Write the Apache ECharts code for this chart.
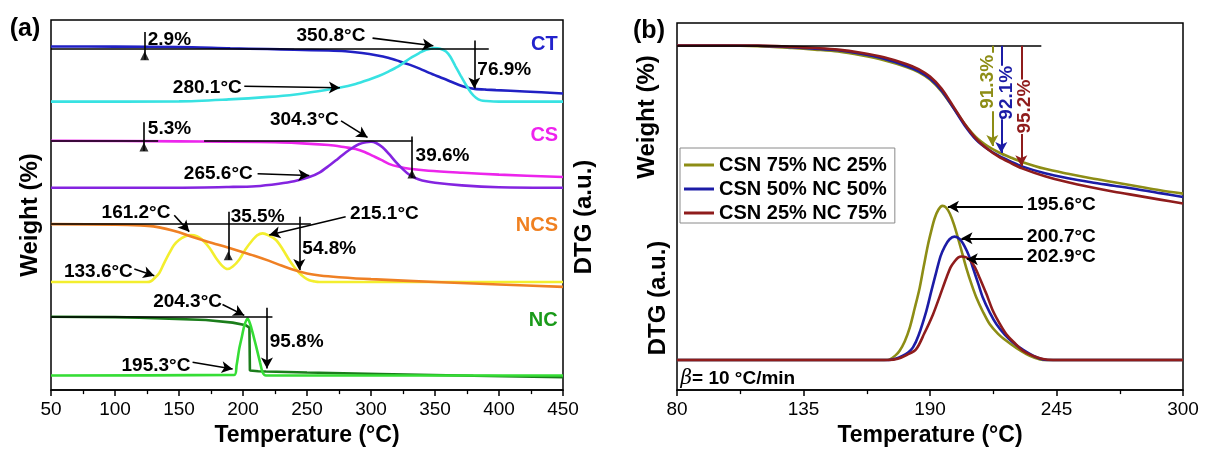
<!DOCTYPE html>
<html><head><meta charset="utf-8">
<script src="https://cdn.jsdelivr.net/npm/echarts@6/dist/echarts.min.js"></script>
<style>html,body{margin:0;padding:0;background:#fff}#c{width:1211px;height:452px}</style>
</head><body><div id="c"></div>
<script>
// ---------------- DATA ----------------
// Panel (a): temperature (°C) vs. stacked signal (a.u., curves offset vertically)
const xTicksA = [50, 450, 50];           // min, max, step
const ctWeight = [[50,346.3],[100,346.2],[150,345.8],[190,344.5],[219,343.7],[240,343],[267,342.3],[280,341.5],[293,339.7],[304,337.5],[314,334.7],[322,331.5],[330,328],[338,324],[345.5,319.7],[352,316.3],[358.6,313],[365,309.5],[371.6,306.3],[377,304.4],[381,303.6],[390,302.8],[397.6,302.3],[420,301],[450,299]];
const ctDtg = [[50,290.7],[150,291],[189,293],[220,295.5],[241,298],[260,301.5],[275,304.7],[288,308.5],[298.7,313],[306,316.5],[314,321.3],[321,326],[327,331.3],[332,335.5],[337.7,339.7],[343,343],[349.5,344.7],[354,344],[358.6,341.3],[362,336],[366,326.3],[370,317],[374,308],[378,300],[382,294.7],[386,292],[390,291.3],[400,290.7],[450,290.7]];
const csWeight = [[50,251.3],[150,250.7],[230,249.7],[267,247],[280,244.7],[288,243],[295,240],[301,236.3],[308,232],[314,228],[322,225],[330,223],[345,221],[371.6,219],[400,217.2],[450,214.7]];
const csDtg = [[50,204],[150,204],[189,204.7],[210,205.5],[228,208],[240,210.5],[251.8,214.7],[260,219.5],[267.4,226.3],[274,233],[280.5,239.7],[286,244.5],[290.9,248],[296,249.8],[300,250.3],[304,249],[309,244.7],[314,238],[319.5,229.7],[325,222.5],[330,217],[335,213.5],[340,211.3],[350,209],[371,206.3],[400,204.5],[450,204]];
const ncsWeight = [[50,167.3],[100,166.8],[120,166],[130,165],[140,162.5],[150,159],[160,154.5],[170,150.5],[180,146.8],[190,143],[200,139],[210,135],[220,130.5],[230,125.5],[240,121],[250,117.5],[260,115.5],[275,113.8],[300,111.8],[350,109],[400,106.5],[450,104]];
const ncsDtg = [[50,109],[125,109],[128,109.7],[131,113],[134.6,118],[138,127],[142.4,138],[146,146],[150,151.3],[155,155],[159.4,156.3],[164,155],[168.4,151.3],[174,143],[179,133],[184,125],[188,122],[192,124.5],[197,131.3],[202,142],[207.5,151.3],[211,156],[215.3,158],[220,156],[225.8,151.3],[231,142],[236,131.3],[240,124],[244,118],[248,113.5],[251.8,110.7],[256,109.5],[259.6,109],[450,109]];
const ncWeight = [[50,74],[100,73.5],[119,73],[171,70.7],[191.9,68],[202.3,65.3],[205,63],[205.4,19.7],[212,19],[218,18.7],[250,17.8],[306.5,16.3],[380,14.5],[450,13]];
const ncDtg = [[50,14.7],[193.2,15.3],[195,25],[197,41.3],[199,53],[201,64.7],[203.6,72],[205.5,67],[207.5,58],[209.5,48],[211.4,38],[213.3,28],[215.3,18],[217.9,14.7],[450,14.7]];

// Panel (b)
const xTicksB = [80, 300, 55];
const seriesNamesB = ['CSN 75% NC 25%', 'CSN 50% NC 50%', 'CSN 25% NC 75%'];
const tempB = [80,100,115,130,140,150,160,170,180,185,190,195,200,205,210,215,220,225,230,240,250,260,270,280,290,300];
const tg75 = [347.3,347.3,346.7,344.8,343.2,341.3,337.5,332.5,325.5,320.5,313,301,285,268.5,255,246,239.5,234.5,230,223,218,213.5,209.5,205.5,201.5,198];
const tg50 = [347.3,347.3,347,345.5,344.2,342.5,339,334,326.5,321.5,314,302,285,267,252.5,243,236,230.5,225.5,218.5,213.5,209.5,206,202.5,198.5,194.7];
const tg25 = [347.3,347.3,347.2,346,344.8,343.2,340,335.5,328.5,323.5,316,304,286.5,268.5,253.5,243,235,229,223.5,215.5,209.5,204.5,200,196,192,188];
const dtg75 = [[80,30.3],[170,30.3],[172.5,31],[175,35],[176.8,39.7],[179,49],[181.2,63],[183.3,82],[185.5,103],[187.3,125],[189.1,146.3],[190.6,161],[192,173],[193.7,182],[195.4,185.7],[197,184],[198.6,178],[200.4,167],[202.2,153],[204,138],[205.8,123],[208,107],[210.2,93],[213,79],[216,66.3],[219.5,57],[223.2,49.7],[227.5,42.5],[231.9,36.3],[235.5,32.5],[239.1,30.3],[300,30.3]];
const dtg50 = [[80,30.3],[172,30.3],[175,31.5],[178,34.5],[180.5,38],[182.6,43],[185,55],[188.4,79.7],[190.6,100],[192.8,119.7],[194.6,135],[196.4,144.7],[198.5,152],[200.7,154.7],[203,152],[205.1,144.7],[207,135],[208.7,123],[211,107],[213,93],[216,78],[218.9,66.3],[222.5,56],[226.1,48],[230.5,40.5],[234.8,34.7],[238,31.5],[241,30.3],[300,30.3]];
const dtg25 = [[80,30.3],[172,30.3],[176,31.5],[180,35.5],[184,41.3],[187.5,57],[191.3,76.3],[194.3,95],[197.1,113],[199,124],[200.7,129.7],[202.2,133.5],[203.7,134.7],[205.5,134],[207.3,131.3],[209.5,124],[211.6,113],[214.5,97],[217.4,79.7],[220.3,67],[223.2,56.3],[226.8,47.5],[230.4,39.7],[234.8,34.5],[239.1,31.3],[243.5,30.3],[300,30.3]];

// Annotations (data units)
const refLinesA = [[50,392,343.7],[50,133.7,251.3],[169.6,332.5,251.3],[50,253,168],[50,223,74]];
const tickLinesA = [[123.2,361,333],[122.6,270,241],[332,255.7,213.7],[188.5,179.7,131.3]];
const trianglesA = [[123.2,337],[122.6,245],[332,217.7],[188.5,135.3]];
const downArrowsA = [[380.7,352.3,304],[244,174.7,121],[218.7,83,21.7]];
const pointersA = [[301.2,354.7,348.7,347,0.03],[201,306.3,275.7,304.7,0.06],[276.6,271.3,297.3,254.7,0.12],[211.4,218,251.8,216.3,0.15],[146.3,176.3,158,159.7,0.12],[280.2,174.7,220.5,156.3,0.2],[115.1,122,130.7,115.3,0.15],[184,86.3,201,75.3,0.12],[160.6,28,191.9,21.3,0.25]];
const labelsA = [[142.5,353,'2.9%'],[268.7,357,'350.8°C'],[404.1,323,'76.9%'],[172.1,304.7,'280.1°C'],
  [142.6,263,'5.3%'],[247.9,272.3,'304.3°C'],[355.9,236.3,'39.6%'],[180.7,218,'265.6°C'],
  [116.4,178.7,'161.2°C'],[211.4,174.7,'35.5%'],[310.4,178,'215.1°C'],[267.4,142,'54.8%'],[87,119,'133.6°C'],
  [156.7,88.7,'204.3°C'],[241.9,48.7,'95.8%'],[132,24.7,'195.3°C']];
const sampleLabelsA = [[435.4,348,'CT'],[435.4,256.3,'CS'],[429.6,166.3,'NCS'],[434.6,69.7,'NC']];
const refLineB = [80,238.4,347];
const dropSegsB = [[217.1,347,340],[221,347,327],[229.7,347,313]];
const dropArrowsB = [[217.1,281,246],[221,273,239],[229.7,258,225.5]];
const dropLabelsB = [[215.2,310.7,'91.3%'],[223.2,299.7,'92.1%'],[231.2,285.7,'95.2%']];
const peakArrowsB = [[230.4,184.7,197.8],[230.4,153,203.7],[230.4,132,206]];
const peakLabelsB = [[247.1,187,'195.6°C'],[247.1,154.7,'200.7°C'],[247.1,134,'202.9°C']];
const rateLabelB = [81.3,11.3];

// ---------------- STYLE ----------------
const FONT = '"Liberation Sans", Arial, Helvetica, sans-serif';
const INK = '#000';
const colA = {ctW:'#2121c4', ctD:'#38e2e2', csW:'#ec25ec', csD:'#8424e0', ncsW:'#ef8024', ncsD:'#f3ee2e', ncW:'#1b7d1b', ncD:'#35dd35'};
const labColA = ['#2222cc','#ee22ee','#f08020','#1a9a1a'];
const colB = ['#8d8d15','#1c1ca6','#8f1c1c'];

const chart = echarts.init(document.getElementById('c'));

function curve(name, data, color, gi, smooth) {
  return {type:'line', name, data, xAxisIndex:gi, yAxisIndex:gi, showSymbol:false, symbol:'none',
    smooth: smooth === undefined ? 0.3 : smooth, silent:true, animation:false,
    lineStyle:{color, width:2.6}, itemStyle:{color}, z:3};
}
function seg(x1,y1,x2,y2,opt){
  opt = opt || {};
  return [{coord:[x1,y1], symbol:'none', lineStyle:{color:opt.color||INK, width:opt.width||1.6, curveness:opt.curv||0, type:'solid'}},
          {coord:[x2,y2], symbol: opt.arrow ? 'arrow' : 'none', symbolSize:[9,11]}];
}
function annoSeries(gi, lines) {
  return {type:'line', data:[], xAxisIndex:gi, yAxisIndex:gi, silent:true, animation:false, symbol:'none',
    markLine:{silent:true, animation:false, symbol:['none','none'], label:{show:false}, emphasis:{disabled:true},
      lineStyle:{color:INK, width:1.6, type:'solid'}, data:lines}, z:4};
}
const TXT = {textBorderWidth:0, textBorderColor:'transparent', textShadowBlur:0, opacity:1};
function textSeries(gi, items, base) {
  return {type:'scatter', xAxisIndex:gi, yAxisIndex:gi, silent:true, animation:false, symbolSize:1,
    itemStyle:{color:'#fff', opacity:1}, z:6,
    label:Object.assign({show:true, position:'inside', fontFamily:FONT, fontWeight:'bold', fontSize:19, color:INK}, TXT, base||{}),
    data: items};
}

// panel (a) annotation lines
const linesA = [];
refLinesA.forEach(r => linesA.push(seg(r[0], r[2], r[1], r[2])));
tickLinesA.forEach(r => linesA.push(seg(r[0], r[1], r[0], r[2])));
downArrowsA.forEach(r => linesA.push(seg(r[0], r[1], r[0], r[2], {arrow:true})));
pointersA.forEach(r => linesA.push(seg(r[0], r[1], r[2], r[3], {arrow:true, curv:r[4]})));
// panel (b)
const linesB = [seg(refLineB[0], refLineB[2], refLineB[1], refLineB[2])];
dropSegsB.forEach((r,i) => linesB.push(seg(r[0], r[1], r[0], r[2], {color:colB[i], width:2})));
dropArrowsB.forEach((r,i) => linesB.push(seg(r[0], r[1], r[0], r[2], {color:colB[i], width:2, arrow:true})));
peakArrowsB.forEach(r => linesB.push(seg(r[0], r[1], r[2], r[1], {arrow:true, width:2})));

const series = [
  curve('CT weight', ctWeight, colA.ctW, 0),
  curve('CT DTG', ctDtg, colA.ctD, 0),
  curve('CS weight', csWeight, colA.csW, 0),
  curve('CS DTG', csDtg, colA.csD, 0),
  curve('NCS DTG', ncsDtg, colA.ncsD, 0),
  curve('NCS weight', ncsWeight, colA.ncsW, 0),
  curve('NC weight', ncWeight, colA.ncW, 0, false),
  curve('NC DTG', ncDtg, colA.ncD, 0, 0.25),
  annoSeries(0, linesA),
  {type:'scatter', xAxisIndex:0, yAxisIndex:0, silent:true, animation:false, symbol:'triangle', symbolSize:[9,9],
    itemStyle:{color:INK}, data:trianglesA, z:5},
  textSeries(0, labelsA.map(l => ({value:[l[0], l[1]], label:{formatter:l[2]}}))),
  textSeries(0, sampleLabelsA.map((l,i) => ({value:[l[0], l[1]], label:{formatter:l[2], color:labColA[i]}})), {fontSize:20}),
];
const tgSets = [tg75, tg50, tg25];
const dtgSets = [dtg75, dtg50, dtg25];
tgSets.forEach((s,i) => series.push(curve(seriesNamesB[i], tempB.map((t,k) => [t, s[k]]), colB[i], 1)));
dtgSets.forEach((s,i) => series.push(curve(seriesNamesB[i], s, colB[i], 1)));
series.push(annoSeries(1, linesB));
series.push(textSeries(1, peakLabelsB.map(l => ({value:[l[0], l[1]], label:{formatter:l[2]}}))));
series.push(textSeries(1, dropLabelsB.map((l,i) => ({value:[l[0], l[1]], label:{formatter:l[2], color:colB[i], rotate:90}}))));
series.push(textSeries(1, [{value:rateLabelB, label:{formatter:'{i|β}{n|= 10 °C/min}'}}],
  {position:'right', distance:0, rich:{i:{fontStyle:'italic', fontWeight:'normal', fontSize:20, fontFamily:'"DejaVu Serif", serif', color:INK}, n:{fontWeight:'bold', fontSize:19, fontFamily:FONT, color:INK}}}));

function xAxis(gi, t) {
  return {type:'value', gridIndex:gi, min:t[0], max:t[1], interval:t[2],
    name:'Temperature (°C)', nameLocation:'middle', nameGap:33,
    nameTextStyle:{fontFamily:FONT, fontWeight:'bold', fontSize:23, color:INK},
    axisLine:{show:true, lineStyle:{color:INK, width:1.5}},
    axisTick:{show:true, inside:false, length:6, lineStyle:{color:INK, width:1.5}},
    minorTick:{show:true, splitNumber:2, length:4, lineStyle:{color:INK, width:1.3}},
    axisLabel:{fontFamily:FONT, fontSize:19, color:INK, margin:10},
    splitLine:{show:false}, minorSplitLine:{show:false}};
}
function yAxis(gi, max) {
  return {type:'value', gridIndex:gi, min:0, max, show:true, axisLine:{show:false}, axisTick:{show:false},
    axisLabel:{show:false}, splitLine:{show:false}};
}
function vtext(x, y, text, size) {
  return {type:'text', x, y, rotation:Math.PI/2, silent:true,
    style:{text, font:'bold '+size+'px '+FONT, fill:INK, align:'center', verticalAlign:'middle'}};
}

chart.setOption({
  animation:false,
  backgroundColor:'#fff',
  grid:[
    {left:51, right:648, top:20, bottom:59, show:true, borderColor:INK, borderWidth:1.5, backgroundColor:'transparent'},
    {left:677, right:28, top:23, bottom:59, show:true, borderColor:INK, borderWidth:1.5, backgroundColor:'transparent'}
  ],
  xAxis:[xAxis(0, xTicksA), xAxis(1, xTicksB)],
  yAxis:[yAxis(0, 373), yAxis(1, 370)],
  legend:{data:seriesNamesB, orient:'vertical', left:680, top:148, itemWidth:30, itemHeight:3, itemGap:4,
    padding:[7,8,0,4], borderColor:'#8a8a8a', borderWidth:1, backgroundColor:'#fff', icon:'rect', selectedMode:false,
    textStyle:{fontSize:20, fontWeight:'bold', fontFamily:FONT, color:INK}},
  graphic:[
    {type:'text', x:25, y:29, silent:true, style:{text:'(a)', font:'bold 25px '+FONT, fill:INK, align:'center', verticalAlign:'middle'}},
    {type:'text', x:649, y:31, silent:true, style:{text:'(b)', font:'bold 25px '+FONT, fill:INK, align:'center', verticalAlign:'middle'}},
    vtext(30, 215, 'Weight (%)', 24),
    vtext(584, 217, 'DTG (a.u.)', 24),
    vtext(647, 117, 'Weight (%)', 24),
    vtext(658, 298, 'DTG (a.u.)', 24)
  ],
  series
});
</script></body></html>
